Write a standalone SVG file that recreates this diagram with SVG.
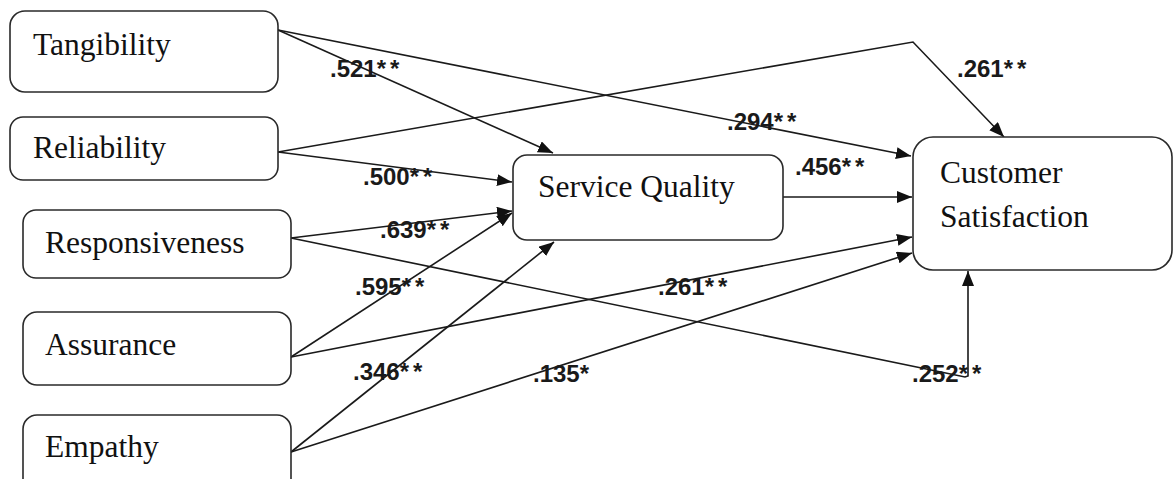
<svg xmlns="http://www.w3.org/2000/svg" width="1173" height="479" viewBox="0 0 1173 479">
<style>
.box{fill:#fff;stroke:#2a2a2a;stroke-width:1.6}
.nt{font-family:"Liberation Serif","Times New Roman",serif;font-size:31.5px;fill:#111}
.lb{font-family:"Liberation Sans",Arial,sans-serif;font-size:24px;font-weight:bold;fill:#1a1a1a}
.as{letter-spacing:4px}
.ed{fill:none;stroke:#1a1a1a;stroke-width:1.6}
</style>
<defs>
<marker id="ah" markerUnits="userSpaceOnUse" markerWidth="16" markerHeight="12" refX="15" refY="6" orient="auto">
<path d="M0,0 L15,6 L0,12 z" fill="#111"/>
</marker>
</defs>
<rect width="1173" height="479" fill="#fff"/>
<g id="connectors">
<path class="ed" d="M278,30 L553,153" marker-end="url(#ah)"/>
<path class="ed" d="M278,30 L911,156" marker-end="url(#ah)"/>
<path class="ed" d="M278,152 L913,42 L1004,137" marker-end="url(#ah)"/>
<path class="ed" d="M278,152 L512,182" marker-end="url(#ah)"/>
<path class="ed" d="M783,197 L912,197" marker-end="url(#ah)"/>
<path class="ed" d="M291,238 L512,211" marker-end="url(#ah)"/>
<path class="ed" d="M291,238 L965,377 L968,376 L968,271" marker-end="url(#ah)"/>
<path class="ed" d="M291,357 L512,213" marker-end="url(#ah)"/>
<path class="ed" d="M291,357 L912,237" marker-end="url(#ah)"/>
<path class="ed" d="M291,452 L554,242" marker-end="url(#ah)"/>
<path class="ed" d="M291,452 L912,253" marker-end="url(#ah)"/>
</g>
<g id="labels">
<text class="lb" x="330" y="77">.521<tspan class="as">**</tspan></text>
<text class="lb" x="727" y="130">.294<tspan class="as">**</tspan></text>
<text class="lb" x="957" y="77">.261<tspan class="as">**</tspan></text>
<text class="lb" x="363" y="185">.500<tspan class="as">**</tspan></text>
<text class="lb" x="795" y="175">.456<tspan class="as">**</tspan></text>
<text class="lb" x="380" y="238">.639<tspan class="as">**</tspan></text>
<text class="lb" x="355" y="295">.595<tspan class="as">**</tspan></text>
<text class="lb" x="658" y="295">.261<tspan class="as">**</tspan></text>
<text class="lb" x="353" y="380">.346<tspan class="as">**</tspan></text>
<text class="lb" x="533" y="382">.135<tspan class="as">*</tspan></text>
<text class="lb" x="912" y="382">.252<tspan class="as">**</tspan></text>
</g>
<g id="tangibility">
<rect class="box" x="10" y="11" width="268" height="81" rx="15"/>
<text class="nt" x="33" y="55">Tangibility</text>
</g>
<g id="reliability">
<rect class="box" x="10" y="117" width="268" height="63" rx="13"/>
<text class="nt" x="33" y="158">Reliability</text>
</g>
<g id="responsiveness">
<rect class="box" x="23" y="210" width="268" height="68" rx="13"/>
<text class="nt" x="45" y="253">Responsiveness</text>
</g>
<g id="assurance">
<rect class="box" x="23" y="312" width="268" height="73" rx="14"/>
<text class="nt" x="45" y="355">Assurance</text>
</g>
<g id="empathy">
<rect class="box" x="23" y="415" width="268" height="80" rx="14"/>
<text class="nt" x="45" y="457">Empathy</text>
</g>
<g id="service-quality">
<rect class="box" x="513" y="155" width="270" height="85" rx="14"/>
<text class="nt" x="538" y="197">Service Quality</text>
</g>
<g id="customer-satisfaction">
<rect class="box" x="913" y="137" width="259" height="133" rx="20"/>
<text class="nt" x="940" y="183">Customer</text>
<text class="nt" x="940" y="227">Satisfaction</text>
</g>
</svg>
